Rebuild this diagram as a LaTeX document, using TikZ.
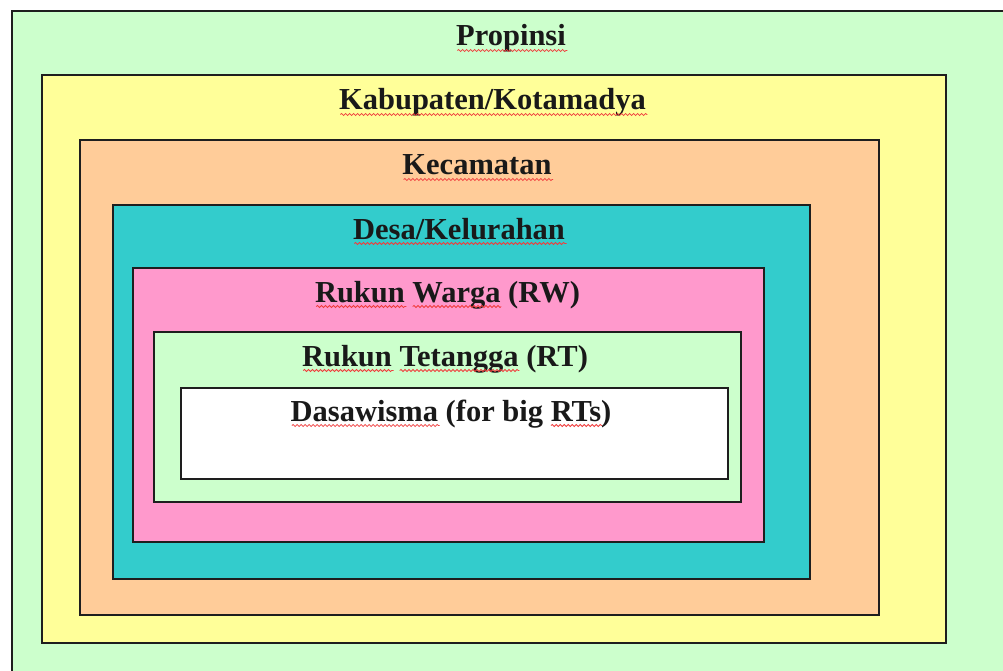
\documentclass[tikz,border=0pt]{standalone}
\usepackage{fontspec}
\setmainfont{Liberation Serif}
\usetikzlibrary{shadows,decorations.pathmorphing}
\definecolor{cgreen}{HTML}{CCFFCC}
\definecolor{cyellow}{HTML}{FFFF99}
\definecolor{cpeach}{HTML}{FFCC99}
\definecolor{cteal}{HTML}{33CCCC}
\definecolor{cpink}{HTML}{FF99CC}
\definecolor{cline}{HTML}{1E1E1E}
\definecolor{squig}{HTML}{F03C3C}
\newcommand\lblfont{\fontsize{30.5}{35}\selectfont\bfseries}
% #1 id, #2 label node, #3 text before the word, #4 the word
\newcommand\sq[4]{%
  \node[lbl, anchor=base west] (#1pre) at (#2.base west) {\phantom{#3}};%
  \node[lbl, anchor=base west] (#1wd) at (#1pre.base east) {\phantom{#4}};%
  \draw[squiggle] ([yshift=-4.5pt]#1wd.base west) -- ([yshift=-4.5pt]#1wd.base east);%
}
\tikzset{
  box/.style={draw=cline, line width=1.6pt, anchor=north west, inner sep=0pt,
    drop shadow={shadow xshift=1.5pt, shadow yshift=-1.5pt, fill=black, opacity=0.35}},
  lbl/.style={anchor=base, inner sep=0pt, font=\lblfont, text=black!90},
  squiggle/.style={draw=squig, line width=0.8pt, decorate,
    decoration={snake, amplitude=1pt, segment length=4pt}}
}
\begin{document}
\begin{tikzpicture}[x=1pt,y=-1pt]
\useasboundingbox (0,0) rectangle (1003,671);
\fill[white] (0,0) rectangle (1003,671);
\clip (0,0) rectangle (1003,671);
\node[box, fill=cgreen,  minimum width=1010pt, minimum height=680pt] (prov) at (11,10) {};
\node[box, fill=cyellow, minimum width=904pt, minimum height=568pt] (kab) at (41,74) {};
\node[box, fill=cpeach,  minimum width=799pt, minimum height=475pt] (kec) at (79,139) {};
\node[box, fill=cteal,   minimum width=697pt, minimum height=374pt] (desa) at (112,204) {};
\node[box, fill=cpink,   minimum width=631pt, minimum height=274pt] (rw) at (132,267) {};
\node[box, fill=cgreen,  minimum width=587pt, minimum height=170pt] (rt) at (153,331) {};
\node[box, fill=white,   minimum width=547pt, minimum height=91pt] (dasa) at (180,387) {};
\node[lbl] (tprov) at (511,46) {Propinsi};
\node[lbl] (tkab) at (492.5,110) {Kabupaten/Kotamadya};
\node[lbl] (tkec) at (477,175) {Kecamatan};
\node[lbl] (tdesa) at (459,239) {Desa/Kelurahan};
\node[lbl] (trw) at (447.5,302) {Rukun Warga (RW)};
\node[lbl] (trt) at (445,366) {Rukun Tetangga (RT)};
\node[lbl] (tdasa) at (451,421) {Dasawisma (for big RTs)};
\sq{a}{tprov}{}{Propinsi}
\sq{b}{tkab}{}{Kabupaten/Kotamadya}
\sq{c}{tkec}{}{Kecamatan}
\sq{d}{tdesa}{}{Desa/Kelurahan}
\sq{e}{trw}{}{Rukun}
\sq{f}{trw}{Rukun\ }{Warga}
\sq{g}{trt}{}{Rukun}
\sq{h}{trt}{Rukun\ }{Tetangga}
\sq{i}{tdasa}{}{Dasawisma}
\sq{j}{tdasa}{Dasawisma (for big\ }{RTs}
\end{tikzpicture}
\end{document}
